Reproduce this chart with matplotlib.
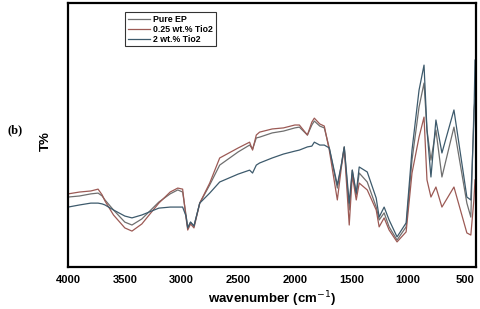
import numpy as np
import matplotlib
matplotlib.use("Agg")
import matplotlib.pyplot as plt

# Espectros FTIR (T% en unidades arbitrarias)
wavenumber = [4000, 3900, 3800, 3736, 3700, 3675, 3600, 3500, 3437, 3350,
              3200, 3100, 3033, 2990, 2960, 2945, 2920, 2890, 2839, 2751,
              2663, 2500, 2399, 2373, 2340, 2311, 2200, 2100, 2000, 1960,
              1889, 1850, 1828, 1780, 1740, 1696, 1625, 1590, 1564, 1520,
              1493, 1458, 1432, 1361, 1282, 1256, 1212, 1168, 1098, 1018,
              966, 904, 860, 834, 799, 755, 702, 596, 482, 447, 420, 410]

pure_ep = [26.5, 26.9, 27.7, 28.0, 26.9, 25.4, 21.6, 17.0, 15.9, 18.2,
           24.6, 27.7, 29.2, 28.4, 19.7, 14.8, 17.0, 15.5, 24.2, 31.1,
           38.6, 43.6, 46.2, 44.7, 48.9, 49.2, 50.8, 51.5, 52.7, 53.0,
           50.0, 53.8, 55.3, 53.4, 52.7, 45.1, 29.9, 38.6, 45.5, 21.6,
           36.7, 27.3, 35.6, 32.2, 22.7, 17.8, 20.5, 15.2, 10.2, 15.2,
           40.5, 60.6, 69.7, 51.9, 40.5, 51.9, 34.1, 53.0, 24.2, 18.9, 59.5, 63.3]

tio2_025 = [27.7, 28.4, 28.8, 29.5, 27.3, 25.0, 19.7, 14.8, 13.6, 16.3,
            24.2, 28.4, 29.9, 29.5, 18.6, 14.0, 16.3, 14.8, 24.2, 31.8,
            41.3, 45.1, 47.3, 44.3, 50.0, 51.1, 52.3, 52.7, 53.8, 53.8,
            50.0, 54.9, 56.4, 54.2, 53.4, 44.3, 25.4, 37.5, 45.1, 15.9,
            34.8, 25.4, 31.8, 29.2, 21.6, 15.2, 18.6, 14.0, 9.5, 13.3,
            35.6, 49.2, 56.8, 33.0, 26.5, 30.3, 22.7, 30.3, 12.9, 12.1, 25.4, 33.0]

tio2_2 = [22.7, 23.5, 24.2, 24.2, 23.9, 23.5, 21.6, 19.3, 18.6, 19.7,
          22.3, 22.7, 22.7, 22.7, 19.3, 14.8, 17.0, 15.5, 24.2, 28.0,
          32.2, 35.2, 36.7, 35.6, 38.6, 39.4, 41.3, 42.8, 43.9, 44.3,
          45.5, 45.8, 47.3, 46.2, 46.2, 45.1, 31.1, 38.6, 45.5, 24.2,
          36.7, 28.0, 37.9, 36.0, 26.1, 18.9, 22.7, 17.8, 11.4, 16.7,
          44.3, 67.0, 76.5, 51.9, 34.1, 55.7, 43.2, 59.5, 26.5, 25.4, 55.7, 78.4]

labels = ["Pure EP", "0.25 wt.% Tio2", "2 wt.% Tio2"]
colors = ["#6f6f6f", "#9c5a55", "#3d5a6c"]

plt.rcParams['font.family'] = ['Liberation Sans', 'DejaVu Sans']

fig = plt.figure(figsize=(4.8, 3.09), dpi=100)
ax = fig.add_axes([0.142, 0.136, 0.85, 0.854])

for y, lab, c in zip([pure_ep, tio2_025, tio2_2], labels, colors):
    ax.plot(wavenumber, y, color=c, lw=0.9, label=lab)

ax.set_xlim(4000, 400)
ax.set_ylim(0, 100)
ax.set_xticks([4000, 3500, 3000, 2500, 2000, 1500, 1000, 500])
ax.set_yticks([])
ax.tick_params(axis='x', length=0, pad=6, labelsize=8)
for lbl in ax.get_xticklabels():
    lbl.set_fontweight('bold')
for s in ax.spines.values():
    s.set_linewidth(1.6)

ax.set_xlabel("wavenumber (cm$^{-1}$)", fontsize=9.5, fontweight='bold', labelpad=3)
fig.text(0.095, 0.545, "T%", rotation=90, fontsize=9.5, fontweight='bold',
         ha='center', va='center')
fig.text(0.032, 0.578, "(b)", fontsize=9, fontweight='bold', ha='center', va='center',
         family=['Liberation Serif', 'DejaVu Serif'])

leg = ax.legend(loc='upper left', bbox_to_anchor=(0.14, 0.965), fontsize=6.3,
                frameon=True, fancybox=False, borderpad=0.3, labelspacing=0.1,
                handlelength=2.5, handletextpad=0.4, borderaxespad=0)
leg.get_frame().set_edgecolor('black')
leg.get_frame().set_linewidth(0.8)
for t in leg.get_texts():
    t.set_fontweight('bold')

fig.savefig("out.png", dpi=100)
